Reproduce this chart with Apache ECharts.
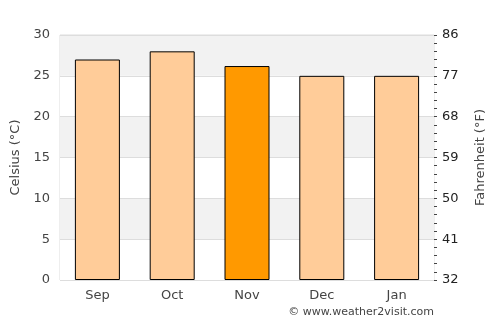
<!DOCTYPE html>
<html><head><meta charset="utf-8">
<script src="https://cdn.jsdelivr.net/npm/echarts@6/dist/echarts.min.js"></script>
<style>html,body{margin:0;padding:0;background:#fff}#c{width:500px;height:325px}</style>
</head><body><div id="c"></div>
<script>
const categories = ['Sep', 'Oct', 'Nov', 'Dec', 'Jan'];
const celsius = [27, 28, 26.2, 25, 25];
const highlightIndex = 2;
const fahrenheitTicks = [32, 41, 50, 59, 68, 77, 86];
const credit = '© www.weather2visit.com';

const chart = echarts.init(document.getElementById('c'), null, {renderer: 'canvas'});
const font = 'DejaVu Sans';
chart.setOption({
  animation: false,
  textStyle: {fontFamily: font},
  grid: {left: 60, right: 66, top: 35, bottom: 45, show: true, borderColor: '#dddddd', borderWidth: 1, backgroundColor: 'transparent'},
  xAxis: {
    type: 'category', data: categories,
    axisLine: {show: false}, axisTick: {show: false},
    axisLabel: {color: '#444', fontSize: 13, margin: 9, fontFamily: font}
  },
  yAxis: [{
    type: 'value', min: 0, max: 30, interval: 5,
    name: 'Celsius (°C)', nameLocation: 'middle', nameGap: 35,
    nameTextStyle: {color: '#444', fontSize: 13, fontFamily: font},
    axisLine: {show: false}, axisTick: {show: false},
    axisLabel: {color: '#444', fontSize: 13, margin: 10, fontFamily: font},
    splitLine: {show: true, lineStyle: {color: '#dddddd', width: 1}},
    splitArea: {show: true, areaStyle: {color: ['#ffffff', '#f2f2f2']}}
  }, {
    type: 'value', position: 'right', min: fahrenheitTicks[0], max: fahrenheitTicks[fahrenheitTicks.length - 1], interval: 9,
    name: 'Fahrenheit (°F)', nameLocation: 'middle', nameGap: 40, nameRotate: 90,
    nameTextStyle: {color: '#444', fontSize: 13, fontFamily: font},
    axisLine: {show: false},
    axisTick: {show: true, length: 3, inside: false, lineStyle: {color: '#444'}},
    minorTick: {show: true, splitNumber: 5, length: 3, lineStyle: {color: '#444'}},
    axisLabel: {color: '#222', fontSize: 13, margin: 8, fontFamily: font},
    splitLine: {show: false}
  }],
  series: [{
    type: 'bar', yAxisIndex: 0, barWidth: 45,
    data: celsius.map((v, i) => ({value: v, itemStyle: {color: i === highlightIndex ? '#ff9900' : '#ffcc99'}})),
    itemStyle: {borderColor: '#000', borderWidth: 1}
  }],
  graphic: [{
    type: 'text', right: 66, top: 307,
    style: {text: credit, fill: '#444', font: '11px "DejaVu Sans"'}
  }]
});
</script></body></html>
